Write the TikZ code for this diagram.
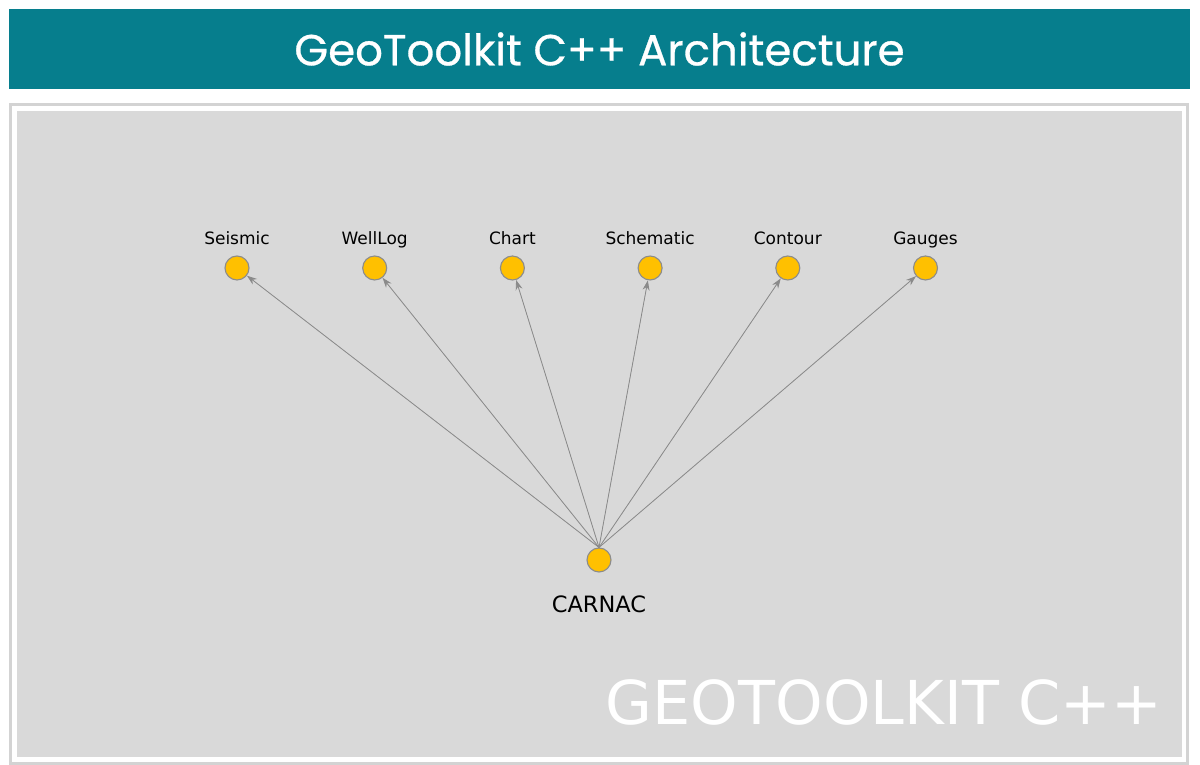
\documentclass[tikz,border=0pt]{standalone}
\usepackage{fontspec}
\setmainfont{DejaVu Sans}
\newfontfamily\titlefont[FakeBold=0.7]{Poppins}
\usetikzlibrary{positioning,arrows.meta}
\definecolor{bannerteal}{HTML}{067E8D}
\definecolor{panelgray}{HTML}{D9D9D9}
\definecolor{framegray}{HTML}{D3D3D3}
\definecolor{nodegold}{HTML}{FFC000}
\definecolor{ringgray}{HTML}{8C8C8C}
\definecolor{linkgray}{HTML}{8A8A8A}
\tikzset{
comp/.style={circle,minimum size=24pt,inner sep=0pt,fill=nodegold,draw=ringgray,line width=1.1pt}, % one circle per module
lbl/.style={inner sep=0pt,text depth=0pt,font=\fontsize{17}{17}\selectfont},
link/.style={-{Stealth[length=10pt,width=7pt]},draw=linkgray,fill=linkgray,line width=0.8pt},
watermark/.style={inner sep=0pt,text=white,font=\fontsize{60.5}{60.5}\selectfont}
}

\begin{document}
\begin{tikzpicture}[x=1pt,y=1pt]
    \useasboundingbox (0,0) rectangle (1200,765);
    % banner
    \fill[bannerteal] (9,676) rectangle (1190,756);
    \node[text=white,font=\titlefont\fontsize{43.5}{43.5}\selectfont] (Title) at (599.5,716) {GeoToolkit C++ Architecture};
    % panel
    \draw[framegray,line width=3pt] (10.5,1.5) rectangle (1187.5,660.5);
    \fill[panelgray] (17,8) rectangle (1182,654);
    \node[watermark,anchor=base east] (Mark) at (1162,40) {GEOTOOLKIT C++};

    \node[comp] (Seismic) at (237,497) {};
    \node[comp,right=112.6pt of Seismic] (WellLog) {};
    \node[comp,right=112.6pt of WellLog] (Chart) {};
    \node[comp,right=112.6pt of Chart] (Schematic) {};
    \node[comp,right=112.6pt of Schematic] (Contour) {};
    \node[comp,right=112.6pt of Contour] (Gauges) {};
    \node[comp] (CARNAC) at (599,205) {};

    \node[lbl,above=11pt of Seismic] (SeismicName) {Seismic};
    \node[lbl,above=11pt of WellLog] (WellLogName) {WellLog};
    \node[lbl,above=11pt of Chart] (ChartName) {Chart};
    \node[lbl,above=11pt of Schematic] (SchematicName) {Schematic};
    \node[lbl,above=11pt of Contour] (ContourName) {Contour};
    \node[lbl,above=11pt of Gauges] (GaugesName) {Gauges};
    \node[lbl,font=\fontsize{22.5}{22.5}\selectfont,below=23pt of CARNAC] (CARNACName) {CARNAC};

    \draw (CARNAC.north) edge[link] (Seismic)
          (CARNAC.north) edge[link] (WellLog)
          (CARNAC.north) edge[link] (Chart)
          (CARNAC.north) edge[link] (Schematic)
          (CARNAC.north) edge[link] (Contour)
          (CARNAC.north) edge[link] (Gauges);
\end{tikzpicture}
\end{document}
